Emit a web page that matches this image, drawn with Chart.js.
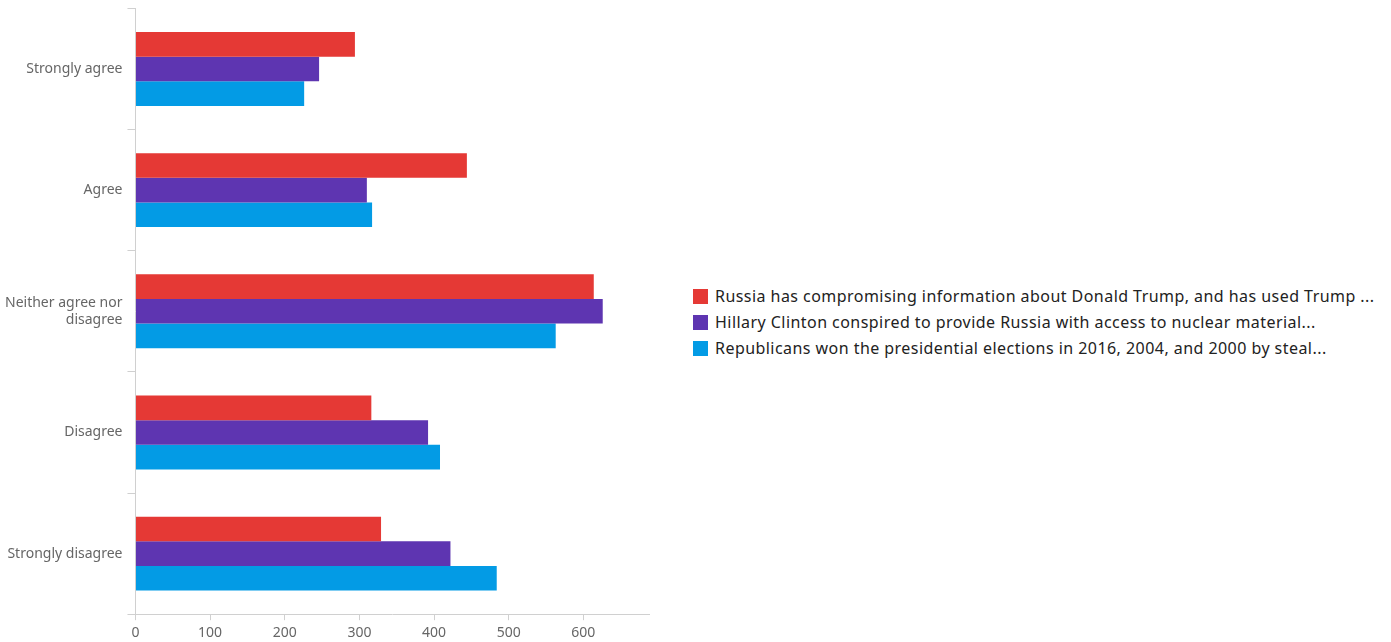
<!DOCTYPE html>
<html>
<head>
<meta charset="utf-8">
<script src="https://cdn.jsdelivr.net/npm/chart.js@4"></script>
<style>
  body { margin: 0; background: #fff; overflow: hidden; }
  #wrap { position: absolute; left: 0; top: -5px; width: 665px; height: 650px; }
  #legend { position: absolute; left: 693px; top: 285px; font-family: "Noto Sans", sans-serif; font-size: 16px; letter-spacing: 0.45px; color: #222; }
  #legend div { height: 26px; line-height: 22px; white-space: nowrap; }
  #legend span.box { display: inline-block; width: 15px; height: 15px; vertical-align: -2px; margin-right: 7px; }
</style>
</head>
<body>
<div id="wrap"><canvas id="chart"></canvas></div>
<div id="legend"></div>
<script>
// ======== Data ========
const categories = ["Strongly agree", "Agree", ["Neither agree nor", "disagree"], "Disagree", "Strongly disagree"];
const seriesNames = [
    "Russia has compromising information about Donald Trump, and has used Trump ...",
    "Hillary Clinton conspired to provide Russia with access to nuclear material...",
    "Republicans won the presidential elections in 2016, 2004, and 2000 by steal..."
];
const russiaTrump = [294, 444, 614, 316, 329];
const clintonNuclear = [246, 310, 626, 392, 422];
const republicansStole = [226, 317, 563, 408, 484];
const seriesColors = ["#E53935", "#5E35B1", "#039BE5"];
const xTicks = [0, 100, 200, 300, 400, 500, 600];

// ======== Chart ========
const ctx = document.getElementById("chart").getContext("2d");
const chart = new Chart(ctx, {
    type: "bar",
    data: {
        labels: categories,
        datasets: [russiaTrump, clintonNuclear, republicansStole].map((vals, i) => ({
            label: seriesNames[i],
            data: vals,
            backgroundColor: seriesColors[i],
            borderWidth: 0,
            categoryPercentage: 0.61,
            barPercentage: 1.0
        }))
    },
    options: {
        indexAxis: "y",
        responsive: true,
        maintainAspectRatio: false,
        animation: false,
        layout: { padding: { top: 3, right: 16, left: 0, bottom: 0 } },
        plugins: { legend: { display: false }, tooltip: { enabled: false } },
        scales: {
            x: {
                min: 0,
                max: 688,
                afterBuildTicks: (scale) => { scale.ticks = xTicks.map(v => ({ value: v })); },
                grid: { drawOnChartArea: false, drawTicks: true, tickLength: 6, color: "#d0d0d0" },
                border: { color: "#d0d0d0" },
                ticks: { color: "#666", font: { family: "Noto Sans", size: 14 }, padding: 4 }
            },
            y: {
                grid: { drawOnChartArea: false, drawTicks: true, tickLength: 8, offset: true, color: "#d0d0d0" },
                border: { color: "#d0d0d0" },
                ticks: { color: "#666", font: { family: "Noto Sans", size: 14 }, padding: 5 }
            }
        }
    }
});

// ======== Legend ========
const legend = document.getElementById("legend");
chart.data.datasets.forEach(ds => {
    const row = document.createElement("div");
    row.innerHTML = `<span class="box" style="background:${ds.backgroundColor}"></span>${ds.label}`;
    legend.appendChild(row);
});
</script>
</body>
</html>
